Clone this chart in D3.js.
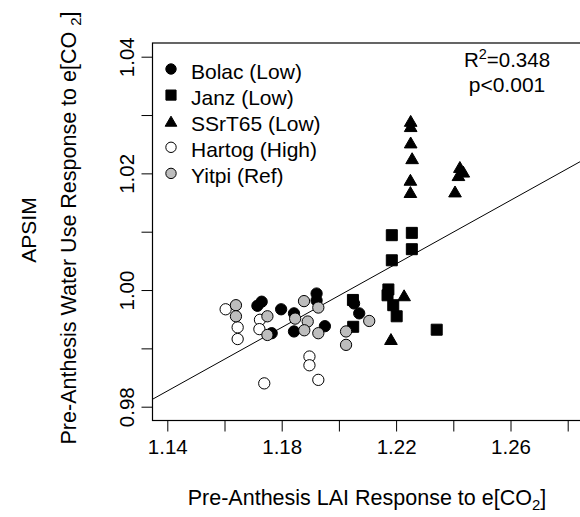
<!DOCTYPE html>
<html><head><meta charset="utf-8">
<script src="https://cdn.jsdelivr.net/npm/d3@7"></script>
<style>body{margin:0;background:#fff}</style>
</head><body>
<svg id="c" width="580" height="517"></svg>
<script>
// ---- data ----
const xTicks = [1.14, 1.16, 1.18, 1.20, 1.22, 1.24, 1.26, 1.28];
const xTickLabels = ["1.14", "", "1.18", "", "1.22", "", "1.26", ""];
const yTicks = [0.98, 0.99, 1.00, 1.01, 1.02, 1.03, 1.04];
const yTickLabels = ["0.98", "", "1.00", "", "1.02", "", "1.04"];
const seriesNames = ["Bolac (Low)", "Janz (Low)", "SSrT65 (Low)", "Hartog (High)", "Yitpi (Ref)"];
const bolacX = [1.1715, 1.1730, 1.1798, 1.1843, 1.1843, 1.1922, 1.1922, 1.1951, 1.1765, 1.2053, 1.2071];
const bolacY = [0.9973, 0.9980, 0.9967, 0.9960, 0.9929, 0.9994, 0.9982, 0.9938, 0.9926, 0.9977, 0.9960];
const janzX = [1.2185, 1.2255, 1.2255, 1.2185, 1.2173, 1.2170, 1.2190, 1.2202, 1.2342, 1.2049, 1.2050];
const janzY = [1.0094, 1.0098, 1.0070, 1.0051, 1.0001, 0.9991, 0.9974, 0.9955, 0.9932, 0.9983, 0.9937];
const ssrX = [1.2251, 1.2251, 1.2251, 1.2256, 1.2250, 1.2250, 1.2423, 1.2418, 1.2435, 1.2406, 1.2228, 1.2182];
const ssrY = [1.0290, 1.0281, 1.0253, 1.0226, 1.0189, 1.0168, 1.0211, 1.0197, 1.0203, 1.0169, 0.9991, 0.9916];
const hartogX = [1.1604, 1.1646, 1.1646, 1.1724, 1.1722, 1.1739, 1.1897, 1.1897, 1.1928];
const hartogY = [0.9967, 0.9936, 0.9916, 0.9949, 0.9933, 0.9840, 0.9886, 0.9871, 0.9846];
const yitpiX = [1.1640, 1.1640, 1.1750, 1.1750, 1.1878, 1.1847, 1.1891, 1.1879, 1.1928, 1.1928, 1.2025, 1.2025, 1.2106];
const yitpiY = [0.9974, 0.9955, 0.9955, 0.9923, 0.9981, 0.9951, 0.9946, 0.9931, 0.9970, 0.9926, 0.9929, 0.9906, 0.9947];
const fitIntercept = 0.67215;
const fitSlope = 0.2724;
const statLines = ["R", "=0.348", "p<0.001"];

// ---- layout ----
const FONT = "Liberation Sans, Arial, sans-serif";
const svg = d3.select("#c");
svg.append("rect").attr("width", 580).attr("height", 517).attr("fill", "#fff");

const x = d3.scaleLinear().domain([1.14, 1.28]).range([167.3, 567.7]);
const y = d3.scaleLinear().domain([0.98, 1.04]).range([406.7, 56.7]);
const box = {l: 152.5, r: 582, t: 43, b: 420.5};

svg.append("defs").append("clipPath").attr("id", "clip")
  .append("rect").attr("x", box.l).attr("y", box.t).attr("width", box.r - box.l).attr("height", box.b - box.t);

// axes
const xAxis = d3.axisBottom(x).tickValues(xTicks).tickSize(11).tickPadding(8)
  .tickFormat((d, i) => xTickLabels[i]);
const gx = svg.append("g").attr("transform", `translate(0,${box.b})`).call(xAxis);
gx.select(".domain").remove();
gx.selectAll("line").attr("stroke", "#000").attr("stroke-width", 1);
gx.selectAll("text").attr("font-family", FONT).attr("font-size", 20.5).attr("fill", "#000");

const yAxis = d3.axisLeft(y).tickValues(yTicks).tickSize(11).tickPadding(0)
  .tickFormat((d, i) => yTickLabels[i]);
const gy = svg.append("g").attr("transform", `translate(${box.l},0)`).call(yAxis);
gy.select(".domain").remove();
gy.selectAll("line").attr("stroke", "#000").attr("stroke-width", 1);
gy.selectAll("text").attr("font-family", FONT).attr("font-size", 20.5).attr("fill", "#000")
  .attr("x", 0).attr("dy", 0)
  .attr("text-anchor", "middle")
  .attr("transform", "translate(-18.5,0) rotate(-90)");

// box
svg.append("rect").attr("x", box.l).attr("y", box.t).attr("width", box.r - box.l).attr("height", box.b - box.t)
  .attr("fill", "none").attr("stroke", "#000").attr("stroke-width", 1.2);

// regression line
const xd = [x.invert(box.l), x.invert(box.r)];
svg.append("g").attr("clip-path", "url(#clip)").append("line")
  .attr("x1", x(xd[0])).attr("y1", y(fitIntercept + fitSlope * xd[0]))
  .attr("x2", x(xd[1])).attr("y2", y(fitIntercept + fitSlope * xd[1]))
  .attr("stroke", "#000").attr("stroke-width", 1);

// symbols
const triType = {draw(ctx, size) {
  const h = Math.sqrt(size) * 0.95, w = h * 0.58;
  ctx.moveTo(0, -h / 2); ctx.lineTo(w, h / 2); ctx.lineTo(-w, h / 2); ctx.closePath();
}};
const styles = [
  {type: d3.symbolCircle, size: 100, fill: "#000", stroke: "#000"},
  {type: d3.symbolSquare, size: 121, fill: "#000", stroke: "#000"},
  {type: triType, size: 132, fill: "#000", stroke: "#000"},
  {type: d3.symbolCircle, size: 100, fill: "#fff", stroke: "#000"},
  {type: d3.symbolCircle, size: 100, fill: "#bdbdbd", stroke: "#000"}
];
const series = [
  [bolacX, bolacY], [janzX, janzY], [ssrX, ssrY], [hartogX, hartogY], [yitpiX, yitpiY]
];
const pts = svg.append("g").attr("clip-path", "url(#clip)");
series.forEach((s, k) => {
  const st = styles[k];
  const data = s[0].map((v, i) => [v, s[1][i]]);
  pts.selectAll(null).data(data).enter().append("path")
    .attr("d", d3.symbol().type(st.type).size(st.size))
    .attr("transform", d => `translate(${x(d[0])},${y(d[1])})`)
    .attr("fill", st.fill).attr("stroke", st.stroke).attr("stroke-width", 1);
});

// legend
const leg = svg.append("g");
seriesNames.forEach((name, k) => {
  const st = styles[k];
  const by = 78.5 + 26.1 * k;
  leg.append("path").attr("d", d3.symbol().type(st.type).size(st.size * 0.85))
    .attr("transform", `translate(171,${by - 9.5})`)
    .attr("fill", st.fill).attr("stroke", st.stroke).attr("stroke-width", 1);
  leg.append("text").attr("x", 191).attr("y", by).text(name)
    .attr("font-family", FONT).attr("font-size", 21).attr("fill", "#000");
});

// stats
const t1 = svg.append("text").attr("x", 507).attr("y", 67.3).attr("text-anchor", "middle")
  .attr("font-family", FONT).attr("font-size", 20.5).attr("fill", "#000");
t1.append("tspan").text(statLines[0]);
t1.append("tspan").text("2").attr("font-size", 14.5).attr("dy", -8);
t1.append("tspan").text(statLines[1]).attr("dy", 8);
svg.append("text").attr("x", 507).attr("y", 91.7).attr("text-anchor", "middle")
  .attr("font-family", FONT).attr("font-size", 21).attr("fill", "#000").text(statLines[2]);

// x title
const xt = svg.append("text").attr("x", 367).attr("y", 505).attr("text-anchor", "middle")
  .attr("font-family", FONT).attr("font-size", 21.5).attr("fill", "#000");
xt.append("tspan").text("Pre-Anthesis LAI Response to e[CO");
xt.append("tspan").text("2").attr("font-size", 15).attr("dy", 5);
xt.append("tspan").text("]").attr("dy", -5);

// y title
const yt = svg.append("text").attr("transform", "translate(76,228) rotate(-90)").attr("text-anchor", "middle")
  .attr("font-family", FONT).attr("font-size", 21.5).attr("fill", "#000");
yt.append("tspan").text("Pre-Anthesis Water Use Response to e[CO ");
yt.append("tspan").text("2").attr("font-size", 15).attr("dy", 5);
yt.append("tspan").text("]").attr("dy", -5);

svg.append("text").attr("transform", "translate(36,230) rotate(-90)").attr("text-anchor", "middle")
  .attr("font-family", FONT).attr("font-size", 21).attr("fill", "#000").text("APSIM");
</script>
</body></html>
